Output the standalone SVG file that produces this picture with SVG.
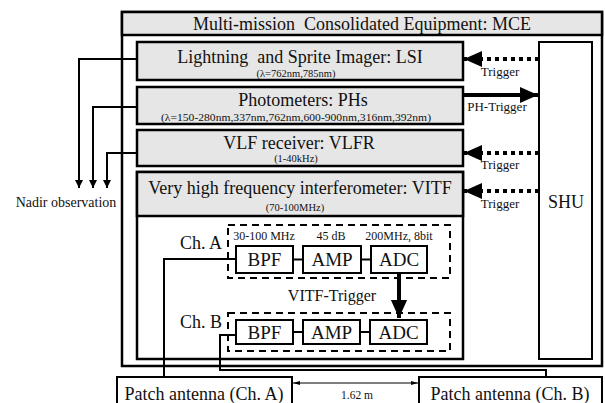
<svg xmlns="http://www.w3.org/2000/svg" width="605" height="403" viewBox="0 0 605 403" font-family="'Liberation Serif', 'Times New Roman', serif">
  <defs>
    <style>
      text { font-family: "Liberation Serif", "Times New Roman", serif; fill: #111; }
      .box { fill: #ffffff; stroke: #000; stroke-width: 2.5; }
      .hdr { fill: #e6e6e6; stroke: #000; stroke-width: 2.5; }
      .blk { fill: #ffffff; stroke: #000; stroke-width: 2; }
      .dash { fill: none; stroke: #000; stroke-width: 2; stroke-dasharray: 7 5; }
      .wire { fill: none; stroke: #000; stroke-width: 2; }
      .dots { fill: none; stroke: #000; stroke-width: 4; stroke-dasharray: 4 4; }
      .thick { fill: none; stroke: #000; stroke-width: 4; }
      .big { font-size: 18px; text-anchor: middle; }
      .sub { font-size: 10.5px; text-anchor: middle; }
      .lbl { font-size: 14px; text-anchor: middle; }
      .trg { font-size: 13px; text-anchor: middle; }
      .sm { font-size: 12px; text-anchor: middle; }
      .blkt { font-size: 19px; text-anchor: middle; }
    </style>
    <marker id="head" viewBox="0 0 10 10" refX="10" refY="5" markerWidth="4" markerHeight="4.5" orient="auto" markerUnits="strokeWidth">
      <path d="M0,0 L10,5 L0,10 z" fill="#000"/>
    </marker>
    <marker id="headS" viewBox="0 0 10 10" refX="10" refY="5" markerWidth="4.5" markerHeight="4.5" orient="auto" markerUnits="strokeWidth">
      <path d="M0,0.5 L10,5 L0,9.5 z" fill="#000"/>
    </marker>
    <marker id="dim" viewBox="0 0 10 10" refX="10" refY="5" markerWidth="7" markerHeight="7" orient="auto-start-reverse" markerUnits="strokeWidth">
      <path d="M0,2 L10,5 L0,8 z" fill="#000"/>
    </marker>
  </defs>

  <!-- enclosure -->
  <g id="mce">
    <rect x="122" y="12" width="480" height="354" class="box"/>
    <rect x="122" y="12" width="480" height="23" class="hdr"/>
    <text x="362" y="30" class="big" xml:space="preserve">Multi-mission  Consolidated Equipment: MCE</text>
  </g>

  <g id="lsi">
    <rect x="137" y="42" width="326" height="38" class="hdr"/>
    <text x="300" y="63" class="big" xml:space="preserve">Lightning  and Sprite Imager: LSI</text>
    <text x="296" y="77" class="sub" textLength="79" lengthAdjust="spacingAndGlyphs">(λ=762nm,785nm)</text>
  </g>

  <g id="phs">
    <rect x="137" y="87" width="326" height="37" class="hdr"/>
    <text x="303" y="106" class="big">Photometers: PHs</text>
    <text x="296" y="121" class="sub" textLength="270" lengthAdjust="spacingAndGlyphs">(λ=150-280nm,337nm,762nm,600-900nm,316nm,392nm)</text>
  </g>

  <g id="vlfr">
    <rect x="137" y="130" width="326" height="36" class="hdr"/>
    <text x="299" y="149" class="big">VLF receiver: VLFR</text>
    <text x="296" y="162" class="sub">(1-40kHz)</text>
  </g>

  <g id="vitf">
    <rect x="137" y="172" width="326" height="187" class="box"/>
    <rect x="137" y="172" width="326" height="44" class="hdr"/>
    <text x="300" y="194" class="big">Very high frequency interferometer: VITF</text>
    <text x="295" y="211" class="sub">(70-100MHz)</text>
  </g>

  <g id="shu">
    <rect x="539" y="42" width="53" height="317" class="blk"/>
    <text x="566" y="208" class="big">SHU</text>
  </g>

  <g id="chA">
    <rect x="228" y="225" width="222" height="53" class="dash"/>
    <text x="222" y="249" font-size="18" text-anchor="end">Ch. A</text>
    <text x="264" y="240" class="sm">30-100 MHz</text>
    <text x="331" y="240" class="sm">45 dB</text>
    <text x="399" y="240" class="sm">200MHz, 8bit</text>
    <g id="bpfA"><rect x="236" y="246" width="57" height="27" class="blk"/><text x="264.5" y="266" class="blkt">BPF</text></g>
    <g id="ampA"><rect x="303" y="246" width="58" height="27" class="blk"/><text x="332" y="266" class="blkt">AMP</text></g>
    <g id="adcA"><rect x="371" y="246" width="56" height="27" class="blk"/><text x="399" y="266" class="blkt">ADC</text></g>
  </g>

  <g id="chB">
    <rect x="228" y="313" width="222" height="38" class="dash"/>
    <text x="222" y="328" font-size="18" text-anchor="end">Ch. B</text>
    <g id="bpfB"><rect x="236" y="320" width="57" height="24" class="blk"/><text x="264.5" y="338.5" class="blkt">BPF</text></g>
    <g id="ampB"><rect x="303" y="320" width="57" height="24" class="blk"/><text x="331.5" y="338.5" class="blkt">AMP</text></g>
    <g id="adcB"><rect x="370" y="320" width="57" height="24" class="blk"/><text x="398.5" y="338.5" class="blkt">ADC</text></g>
  </g>

  <g id="antA">
    <rect x="117" y="377" width="175" height="40" class="blk"/>
    <text x="204" y="400" class="big">Patch antenna (Ch. A)</text>
  </g>
  <g id="antB">
    <rect x="419" y="377" width="183" height="40" class="blk"/>
    <text x="510" y="400" class="big">Patch antenna (Ch. B)</text>
  </g>

  <text x="66" y="207" class="lbl">Nadir observation</text>

  <!-- connectors -->
  <g id="connectors">
    <!-- nadir observation feeds -->
    <path d="M137,59 H79 V188" class="wire" marker-end="url(#head)"/>
    <path d="M137,107 H93 V188" class="wire" marker-end="url(#head)"/>
    <path d="M137,153 H107 V188" class="wire" marker-end="url(#head)"/>

    <!-- triggers from SHU -->
    <path d="M539,59 H464" class="dots" marker-end="url(#headS)"/>
    <text x="500" y="76" class="trg">Trigger</text>
    <path d="M463,95 H538" class="thick" marker-end="url(#headS)"/>
    <text x="497" y="111" class="trg">PH-Trigger</text>
    <path d="M539,153 H464" class="dots" marker-end="url(#headS)"/>
    <text x="500" y="169" class="trg">Trigger</text>
    <path d="M539,191 H464" class="dots" marker-end="url(#headS)"/>
    <text x="500" y="208" class="trg">Trigger</text>

    <!-- chain links -->
    <path d="M293,259.5 H303 M361,259.5 H371" class="wire"/>
    <path d="M293,332 H303 M360,332 H370" class="wire"/>

    <!-- VITF trigger A to B -->
    <path d="M399,273 V318" class="thick" marker-end="url(#headS)"/>
    <text x="332" y="301" font-size="16" text-anchor="middle">VITF-Trigger</text>

    <!-- antenna feeds -->
    <path d="M236,259 H164 V377" class="wire"/>
    <path d="M236,335 H220 V370 H546 V377" class="wire"/>

    <!-- antenna spacing -->
    <path d="M293,383 H418" fill="none" stroke="#000" stroke-width="1" marker-start="url(#dim)" marker-end="url(#dim)"/>
    <text x="357" y="399" font-size="11.5" text-anchor="middle">1.62 m</text>
  </g>
</svg>
